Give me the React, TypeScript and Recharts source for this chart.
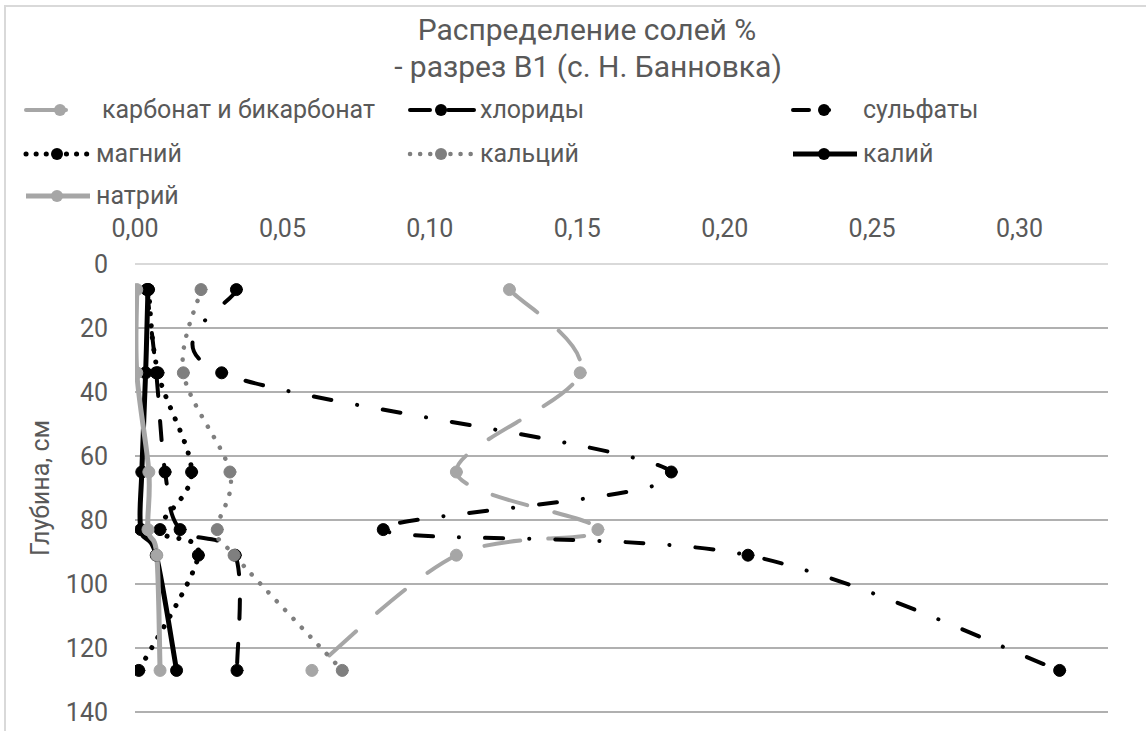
import React from 'react'
import { CartesianGrid, Line, LineChart, XAxis, YAxis } from 'recharts'

const depths = [8, 34, 65, 83, 91, 127]
const carbonate = [0.127, 0.151, 0.109, 0.157, 0.109, 0.06]
const chlorides = [0.004, 0.0072, 0.0102, 0.0153, 0.034, 0.0346]
const sulfates = [0.0344, 0.0294, 0.1819, 0.0842, 0.2079, 0.3136]
const magnesium = [0.0046, 0.0078, 0.0192, 0.0085, 0.0215, 0.0013]
const calcium = [0.0224, 0.0164, 0.0322, 0.0279, 0.0336, 0.0703]
const potassium = [0.0044, 0.0036, 0.0023, 0.002, 0.0072, 0.0141]
const sodium = [0.0006, 0.0006, 0.0047, 0.0044, 0.0074, 0.0085]

const xTicks = [0, 0.05, 0.1, 0.15, 0.2, 0.25, 0.3]
const yTicks = [0, 20, 40, 60, 80, 100, 120, 140]

const LIGHT = '#a6a6a6'
const DARK = '#7f7f7f'
const BLACK = '#000000'
const TEXT = '#595959'
const FONT = 'Roboto, "Noto Sans", sans-serif'

type S = {
  key: string
  name: string
  values: number[]
  color: string
  width: number
  dash?: string
  legendDash?: string
  cap: 'round' | 'butt'
}

const series: S[] = [
  { key: 'carb', name: 'карбонат и бикарбонат', values: carbonate, color: LIGHT, width: 4, dash: '36 28', legendDash: '40 100', cap: 'round' },
  { key: 'chl', name: 'хлориды', values: chlorides, color: BLACK, width: 4, dash: '19 25', legendDash: '20 18 40', cap: 'round' },
  { key: 'sulf', name: 'сульфаты', values: sulfates, color: BLACK, width: 4, dash: '18 26 0.1 26', legendDash: '16 20 0.1 40', cap: 'round' },
  { key: 'mg', name: 'магний', values: magnesium, color: BLACK, width: 5, dash: '0.1 12', legendDash: '0.1 10', cap: 'round' },
  { key: 'ca', name: 'кальций', values: calcium, color: DARK, width: 4.5, dash: '0.1 12', legendDash: '0.1 10', cap: 'round' },
  { key: 'k', name: 'калий', values: potassium, color: BLACK, width: 5, cap: 'butt' },
  { key: 'na', name: 'натрий', values: sodium, color: LIGHT, width: 5, cap: 'butt' },
]

const rows = depths.map((depth, i) => {
  const r: Record<string, number> = { depth }
  series.forEach((s) => (r[s.key] = s.values[i]))
  return r
})

const legendCols = [22, 406, 789]
const legendRows = [110, 154, 196]

const fmt = (v: number) => v.toFixed(2).replace('.', ',')

// Excel-like smoothed line (Catmull-Rom through the points)
function smoothCurve(context: any) {
  let pts: [number, number][] = []
  return {
    areaStart() {},
    areaEnd() {},
    lineStart() {
      pts = []
    },
    point(x: number, y: number) {
      pts.push([+x, +y])
    },
    lineEnd() {
      const n = pts.length
      if (!n) return
      context.moveTo(pts[0][0], pts[0][1])
      for (let i = 0; i < n - 1; i++) {
        const p0 = pts[Math.max(i - 1, 0)]
        const p1 = pts[i]
        const p2 = pts[i + 1]
        const p3 = pts[Math.min(i + 2, n - 1)]
        context.bezierCurveTo(
          p1[0] + (p2[0] - p0[0]) / 6,
          p1[1] + (p2[1] - p0[1]) / 6,
          p2[0] - (p3[0] - p1[0]) / 6,
          p2[1] - (p3[1] - p1[1]) / 6,
          p2[0],
          p2[1],
        )
      }
    },
  }
}

function YTitle(props: any) {
  const vb = props.viewBox
  const cx = vb.x + 35
  const cy = vb.y + vb.height / 2
  return (
    <text x={cx} y={cy} transform={`rotate(-90 ${cx} ${cy})`} textAnchor="middle" dominantBaseline="central" fill={TEXT} fontSize={25} fontFamily={FONT}>
      Глубина, см
    </text>
  )
}

function Header() {
  return (
    <svg width={1146} height={250} style={{ position: 'absolute', left: 0, top: 0 }}>
      <text x={587} y={40} textAnchor="middle" fill={TEXT} fontSize={30} fontFamily={FONT}>
        Распределение солей %
      </text>
      <text x={588} y={77} textAnchor="middle" fill={TEXT} fontSize={30} fontFamily={FONT}>
        - разрез В1 (с. Н. Банновка)
      </text>
      {series.map((s, i) => {
        const x = legendCols[i % 3]
        const y = legendRows[Math.floor(i / 3)]
        const isCarb = s.key === 'carb'
        return (
          <g key={s.key}>
            <line
              x1={x + 4}
              y1={y}
              x2={isCarb ? x + 48 : x + 68}
              y2={y}
              stroke={s.color}
              strokeWidth={s.width}
              strokeDasharray={s.legendDash}
              strokeLinecap={s.cap}
            />
            <circle cx={isCarb ? x + 38 : x + 35} cy={y} r={6} fill={s.color} />
            <text x={isCarb ? x + 80 : x + 74} y={y + 8} fill={TEXT} fontSize={25} fontFamily={FONT}>
              {s.name}
            </text>
          </g>
        )
      })}
    </svg>
  )
}

export default function App() {
  return (
    <div style={{ position: 'relative', width: 1146, height: 731, background: '#fff', overflow: 'hidden' }}>
      <style>{`body{margin:0}`}</style>
      <div
        style={{
          position: 'absolute',
          left: 4,
          top: 5,
          width: 1200,
          height: 800,
          borderLeft: '2px solid #d9d9d9',
          borderTop: '2px solid #d9d9d9',
        }}
      />
      <div style={{ position: 'absolute', left: 0, top: 0 }}>
        <LineChart width={1146} height={731} data={rows} layout="vertical" margin={{ top: 224, right: 38, bottom: 19, left: 5 }}>
          <CartesianGrid vertical={false} horizontalValues={yTicks.slice(1)} stroke="#b0b0b0" strokeWidth={2} />
          <XAxis
            type="number"
            orientation="top"
            domain={[0, 0.33]}
            ticks={xTicks}
            tickFormatter={fmt}
            height={40}
            tickSize={0}
            tickMargin={27}
            axisLine={{ stroke: '#d9d9d9', strokeWidth: 2 }}
            tick={{ fill: TEXT, fontSize: 25, fontFamily: FONT }}
            allowDataOverflow
          />
          <YAxis
            type="number"
            dataKey="depth"
            domain={[0, 140]}
            ticks={yTicks}
            width={130}
            tickSize={0}
            tickMargin={27}
            axisLine={false}
            tick={{ fill: TEXT, fontSize: 25, fontFamily: FONT }}
            label={{ content: YTitle }}
          />
          {series.map((s) => (
            <Line
              key={s.key}
              dataKey={s.key}
              name={s.name}
              type={smoothCurve as any}
              stroke={s.color}
              strokeWidth={s.width}
              strokeDasharray={s.dash}
              strokeLinecap={s.cap}
              dot={{ r: 6, fill: s.color, stroke: s.color, strokeWidth: 1, strokeDasharray: '' }}
              isAnimationActive={false}
            />
          ))}
        </LineChart>
      </div>
      <Header />
    </div>
  )
}
